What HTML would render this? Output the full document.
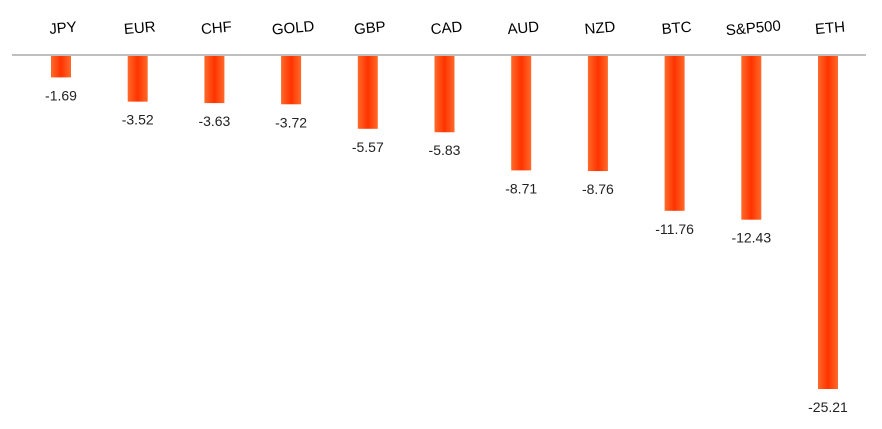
<!DOCTYPE html>
<html><head><meta charset="utf-8"><style>
body{margin:0;background:#fff;}
svg{display:block;font-family:"Liberation Sans",sans-serif;}
</style></head><body>
<svg id="chart" width="882" height="429">
<defs><linearGradient id="g" x1="0" x2="1" y1="0" y2="0">
<stop offset="0" stop-color="#ff6a2a"/><stop offset="0.5" stop-color="#ff3300"/><stop offset="1" stop-color="#ff6a2a"/></linearGradient></defs>
<line x1="12" x2="866" y1="55" y2="55" stroke="#bfbfbf" stroke-width="2"/>
</svg>
<script>
const categories=["JPY","EUR","CHF","GOLD","GBP","CAD","AUD","NZD","BTC","S&P500","ETH"];
const values=[-1.69,-3.52,-3.63,-3.72,-5.57,-5.83,-8.71,-8.76,-11.76,-12.43,-25.21];
const labels=["-1.69","-3.52","-3.63","-3.72","-5.57","-5.83","-8.71","-8.76","-11.76","-12.43","-25.21"];
const svg=document.getElementById('chart');
const NS='http://www.w3.org/2000/svg';
const x0=61,step=76.7,y0=55,k=334/25.21,bw=20;
const xs=i=>x0+i*step;
const ys=v=>y0-v*k;
categories.forEach((c,i)=>{
  const cx=xs(i),yb=ys(values[i]);
  const r=document.createElementNS(NS,'rect');
  r.setAttribute('x',cx-bw/2);r.setAttribute('y',y0+1);
  r.setAttribute('width',bw);r.setAttribute('height',yb-y0-1);
  r.setAttribute('fill','url(#g)');
  
  
  svg.appendChild(r);
  const t=document.createElementNS(NS,'text');
  t.setAttribute('x',cx+2);t.setAttribute('y',33);
  t.setAttribute('text-anchor','middle');t.setAttribute('font-size','15');
  t.setAttribute('transform','rotate(-5 '+cx+' 28)');
  t.textContent=c;
  
  
  svg.appendChild(t);
  const v=document.createElementNS(NS,'text');
  v.setAttribute('x',cx);v.setAttribute('y',yb+23);
  v.setAttribute('text-anchor','middle');v.setAttribute('font-size','14');
  v.setAttribute('fill','#222');
  v.textContent=labels[i];
  
  
  svg.appendChild(v);
});
</script>
</body></html>
